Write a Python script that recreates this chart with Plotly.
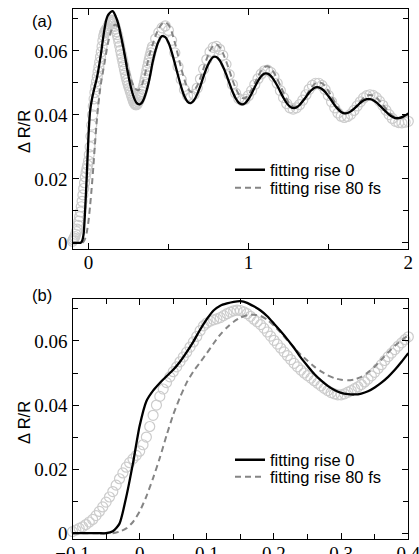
import numpy as np
import plotly.graph_objects as go

# ---------------- data ----------------
# time axes (ps)
t_early_data = np.round(np.arange(-0.1, 0.40001, 0.005), 3)   # dense sampling, -0.1 .. 0.4
t_early_fit = np.round(np.arange(-0.1, 0.40001, 0.01), 2)     # fit sampling, -0.1 .. 0.4
t_late = np.round(np.arange(0.42, 2.00001, 0.02), 2)          # 0.42 .. 2.0

# measured ΔR/R (open circles)
data_early = [
    0.0005, 0.0010, 0.0015, 0.0020, 0.0027, 0.0035, 0.0043, 0.0055, 0.0068, 0.0082,
    0.0097, 0.0113, 0.0130, 0.0150, 0.0170, 0.0188, 0.0206, 0.0220, 0.0232, 0.0243,
    0.0256, 0.0276, 0.0300, 0.0333, 0.0368, 0.0400, 0.0427, 0.0450, 0.0470, 0.0488,
    0.0504, 0.0519, 0.0535, 0.0550, 0.0565, 0.0581, 0.0597, 0.0614, 0.0632, 0.0647,
    0.0656, 0.0662, 0.0666, 0.0669, 0.0673, 0.0679, 0.0685, 0.0690, 0.0694, 0.0696,
    0.0695, 0.0691, 0.0685, 0.0677, 0.0668, 0.0660, 0.0651, 0.0640, 0.0628, 0.0615,
    0.0602, 0.0590, 0.0578, 0.0566, 0.0554, 0.0542, 0.0530, 0.0519, 0.0509, 0.0500,
    0.0492, 0.0484, 0.0476, 0.0468, 0.0460, 0.0452, 0.0445, 0.0439, 0.0435, 0.0432,
    0.0432, 0.0435, 0.0440, 0.0445, 0.0451, 0.0457, 0.0464, 0.0472, 0.0481, 0.0491,
    0.0502, 0.0514, 0.0526, 0.0539, 0.0551, 0.0562, 0.0573, 0.0584, 0.0594, 0.0604,
    0.0613,
]
data_late = [
    0.0638, 0.0658, 0.0672, 0.0678, 0.0664, 0.0633, 0.0594, 0.0551, 0.0511, 0.0479,
    0.0460, 0.0455, 0.0464, 0.0484, 0.0512, 0.0543, 0.0573, 0.0597, 0.0611, 0.0614,
    0.0605, 0.0586, 0.0558, 0.0526, 0.0495, 0.0468, 0.0451, 0.0445, 0.0449, 0.0460,
    0.0476, 0.0495, 0.0513, 0.0528, 0.0538, 0.0540, 0.0533, 0.0519, 0.0499, 0.0476,
    0.0454, 0.0435, 0.0422, 0.0418, 0.0422, 0.0432, 0.0446, 0.0463, 0.0480, 0.0492,
    0.0499, 0.0499, 0.0492, 0.0479, 0.0461, 0.0441, 0.0422, 0.0406, 0.0396, 0.0392,
    0.0395, 0.0402, 0.0414, 0.0428, 0.0441, 0.0453, 0.0460, 0.0463, 0.0461, 0.0454,
    0.0443, 0.0430, 0.0415, 0.0401, 0.0389, 0.0380, 0.0376, 0.0375, 0.0377, 0.0380,
]

# fit with rise time 0
fit0_early = [
    0.0, 0.0, 0.0, 0.0, 0.0, 0.0, 0.0006, 0.0030, 0.0113, 0.0218,
    0.0335, 0.0412, 0.0445, 0.0469, 0.0490, 0.0510, 0.0535, 0.0565, 0.0598, 0.0635,
    0.0668, 0.0695, 0.0710, 0.0717, 0.0722, 0.0724, 0.0719, 0.0708, 0.0695, 0.0677,
    0.0654, 0.0630, 0.0605, 0.0578, 0.0548, 0.0522, 0.0497, 0.0477, 0.0460, 0.0447,
    0.0438, 0.0434, 0.0433, 0.0436, 0.0443, 0.0455, 0.0470, 0.0488, 0.0510, 0.0535,
    0.0562,
]
fit0_late = [
    0.0603, 0.0632, 0.0646, 0.0643, 0.0626, 0.0597, 0.0561, 0.0523, 0.0487, 0.0458,
    0.0441, 0.0437, 0.0446, 0.0465, 0.0491, 0.0521, 0.0548, 0.0569, 0.0581, 0.0581,
    0.0571, 0.0552, 0.0528, 0.0501, 0.0474, 0.0452, 0.0438, 0.0433, 0.0437, 0.0449,
    0.0466, 0.0487, 0.0506, 0.0521, 0.0529, 0.0529, 0.0522, 0.0509, 0.0492, 0.0472,
    0.0453, 0.0437, 0.0426, 0.0421, 0.0423, 0.0431, 0.0443, 0.0456, 0.0470, 0.0480,
    0.0486, 0.0486, 0.0481, 0.0472, 0.0459, 0.0445, 0.0430, 0.0418, 0.0409, 0.0405,
    0.0406, 0.0411, 0.0419, 0.0428, 0.0438, 0.0445, 0.0449, 0.0449, 0.0446, 0.0439,
    0.0430, 0.0420, 0.0410, 0.0401, 0.0394, 0.0390, 0.0390, 0.0393, 0.0398, 0.0405,
]

# fit with rise time 80 fs
fit80_early = [
    0.0, 0.0, 0.0, 0.0, 0.0, 0.0, 0.0, 0.0005, 0.0015, 0.0035,
    0.0068, 0.0115, 0.0172, 0.0235, 0.0305, 0.0370, 0.0424, 0.0470, 0.0505, 0.0533,
    0.0562, 0.0592, 0.0620, 0.0642, 0.0660, 0.0673, 0.0680, 0.0682, 0.0678, 0.0666,
    0.0648, 0.0626, 0.0602, 0.0579, 0.0557, 0.0538, 0.0520, 0.0505, 0.0493, 0.0484,
    0.0479, 0.0477, 0.0480, 0.0488, 0.0502, 0.0520, 0.0542, 0.0564, 0.0585, 0.0602,
    0.0618,
]
fit80_late = [
    0.0648, 0.0671, 0.0685, 0.0690, 0.0682, 0.0660, 0.0626, 0.0586, 0.0545, 0.0510,
    0.0484, 0.0472, 0.0476, 0.0491, 0.0516, 0.0546, 0.0576, 0.0601, 0.0616, 0.0620,
    0.0612, 0.0594, 0.0569, 0.0540, 0.0510, 0.0484, 0.0464, 0.0453, 0.0453, 0.0462,
    0.0479, 0.0499, 0.0520, 0.0538, 0.0549, 0.0552, 0.0546, 0.0532, 0.0513, 0.0491,
    0.0469, 0.0449, 0.0434, 0.0426, 0.0426, 0.0432, 0.0444, 0.0459, 0.0475, 0.0489,
    0.0499, 0.0502, 0.0499, 0.0489, 0.0475, 0.0458, 0.0440, 0.0424, 0.0412, 0.0406,
    0.0406, 0.0410, 0.0419, 0.0430, 0.0442, 0.0453, 0.0460, 0.0462, 0.0460, 0.0454,
    0.0444, 0.0432, 0.0420, 0.0408, 0.0398, 0.0392, 0.0390, 0.0391, 0.0395, 0.0401,
]

legend_labels = ["fitting rise 0", "fitting rise 80 fs"]
y_title = "Δ R/R"
panel_labels = ["(a)", "(b)"]
y_ticks = [0, 0.02, 0.04, 0.06]
xa_ticks = [0, 1, 2]
xb_ticks = [-0.1, 0, 0.1, 0.2, 0.3, 0.4]

assert len(data_early) == len(t_early_data)
assert len(data_late) == len(t_late)
assert len(fit0_early) == len(t_early_fit) and len(fit80_early) == len(t_early_fit)
assert len(fit0_late) == len(t_late) and len(fit80_late) == len(t_late)

t_data_full = np.concatenate([t_early_data, t_late])
d_full = data_early + data_late
t_fit_full = np.concatenate([t_early_fit, t_late])
f0_full = fit0_early + fit0_late
f80_full = fit80_early + fit80_late

# ---------------- styles ----------------
W, H = 419, 554
CIRC = dict(symbol="circle-open", size=10, color="#cccccc", line=dict(width=1.2, color="#cccccc"))
BLACK = dict(color="black", width=2.3, shape="spline", smoothing=0.6)
DASH = dict(color="#858585", width=2.0, dash="6px,4px", shape="spline", smoothing=0.6)
TICKFONT = dict(family="Liberation Serif", size=19, color="black")
SANS = "Liberation Sans"

fig = go.Figure()

# panel (a)
fig.add_trace(go.Scatter(x=t_data_full, y=d_full, mode="markers", marker=CIRC,
                         showlegend=False, cliponaxis=False, xaxis="x", yaxis="y"))
fig.add_trace(go.Scatter(x=t_fit_full, y=f80_full, mode="lines", line=DASH,
                         name=legend_labels[1], legend="legend2", xaxis="x", yaxis="y"))
fig.add_trace(go.Scatter(x=t_fit_full, y=f0_full, mode="lines", line=BLACK,
                         name=legend_labels[0], legend="legend", xaxis="x", yaxis="y"))

# panel (b)
fig.add_trace(go.Scatter(x=t_early_data, y=data_early, mode="markers", marker=CIRC,
                         showlegend=False, cliponaxis=False, xaxis="x2", yaxis="y2"))
fig.add_trace(go.Scatter(x=t_early_fit, y=fit80_early, mode="lines", line=DASH,
                         name=legend_labels[1], legend="legend4", xaxis="x2", yaxis="y2"))
fig.add_trace(go.Scatter(x=t_early_fit, y=fit0_early, mode="lines", line=BLACK,
                         name=legend_labels[0], legend="legend3", xaxis="x2", yaxis="y2"))

def px_x(p):
    return p / W

def px_y(p):
    return 1 - p / H

common_axis = dict(showline=True, linecolor="black", linewidth=1.2, mirror="allticks",
                   ticks="inside", ticklen=6, tickwidth=1.2, tickcolor="black",
                   showgrid=False, zeroline=False, tickfont=TICKFONT, automargin=False)

xdom = [px_x(72.5), px_x(408.3)]
fig.update_layout(
    template="none",
    width=W, height=H, margin=dict(l=0, r=0, t=0, b=0, autoexpand=False),
    paper_bgcolor="white", plot_bgcolor="white",
    xaxis=dict(domain=xdom, range=[-0.1, 2.0], anchor="y", tickvals=xa_ticks, ticklabelstandoff=-4,
               ticklabeloverflow="allow",
               minor=dict(ticks="inside", dtick=0.5, tick0=0, ticklen=5, tickcolor="black", tickwidth=1.2),
               **common_axis),
    yaxis=dict(domain=[px_y(249.3), px_y(9)], range=[-0.002, 0.0731], anchor="x",
               tickvals=y_ticks,
               minor=dict(ticks="inside", dtick=0.01, tick0=0, ticklen=5, tickcolor="black", tickwidth=1.2),
               **common_axis),
    xaxis2=dict(domain=xdom, range=[-0.1, 0.4], anchor="y2", tickvals=xb_ticks, ticklabelstandoff=-3,
                ticklabeloverflow="allow",
                minor=dict(ticks="inside", dtick=0.05, tick0=0, ticklen=5, tickcolor="black", tickwidth=1.2),
                **common_axis),
    yaxis2=dict(domain=[px_y(539.3), px_y(299.3)], range=[-0.0019, 0.0730], anchor="x2",
                tickvals=y_ticks,
                minor=dict(ticks="inside", dtick=0.01, tick0=0, ticklen=5, tickcolor="black", tickwidth=1.2),
                **common_axis),
)

leg_common = dict(bgcolor="rgba(0,0,0,0)", borderwidth=0, xanchor="left", yanchor="middle",
                  font=dict(family=SANS, size=16.5, color="black"))
fig.update_layout(
    legend=dict(x=px_x(230), y=px_y(170), **leg_common),
    legend2=dict(x=px_x(230), y=px_y(188), **leg_common),
    legend3=dict(x=px_x(230), y=px_y(460), **leg_common),
    legend4=dict(x=px_x(230), y=px_y(477), **leg_common),
)

annos = [
    dict(text=y_title, x=px_x(24), y=px_y(132), textangle=-90,
         font=dict(family=SANS, size=16.5, color="black")),
    dict(text=y_title, x=px_x(24), y=px_y(423), textangle=-90,
         font=dict(family=SANS, size=16.5, color="black")),
    dict(text=panel_labels[0], x=px_x(41.5), y=px_y(21), font=dict(family=SANS, size=16.5, color="black")),
    dict(text=panel_labels[1], x=px_x(41.5), y=px_y(295), font=dict(family=SANS, size=16.5, color="black")),
]
for a in annos:
    fig.add_annotation(xref="paper", yref="paper", showarrow=False, xanchor="center", yanchor="middle", **a)

# remove the default 8px page margin so the figure sits at the window's top-left corner
fig.write_html("out.html", config={"displayModeBar": False},
               post_script="document.body.style.margin='0';document.body.style.overflow='hidden';")
